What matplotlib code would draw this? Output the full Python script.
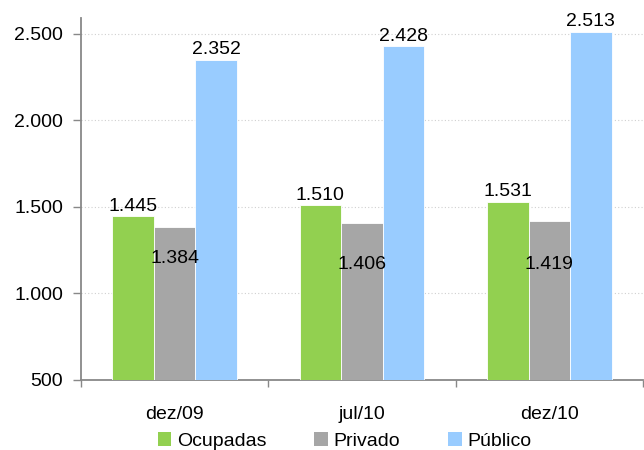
import numpy as np
import matplotlib.pyplot as plt
from matplotlib.ticker import FuncFormatter, FixedLocator
from matplotlib.patches import Patch

plt.rcParams['font.family'] = ['Liberation Sans', 'DejaVu Sans']

periods = ['dez/09', 'jul/10', 'dez/10']
ocupadas = [1445, 1510, 1531]
privado = [1384, 1406, 1419]
publico = [2352, 2428, 2513]

series = ['Ocupadas', 'Privado', 'Público']
colors = ['#92D050', '#A6A6A6', '#99CCFF']


def br(v):
    return f'{v:,.0f}'.replace(',', '.')


fig = plt.figure(figsize=(6.44, 4.5), dpi=100)
ax = fig.add_axes([81 / 644, 70 / 450, 562 / 644, 362 / 450])

x = np.arange(len(periods))
w = 0.222
bars = []
for i, (vals, col) in enumerate(zip([ocupadas, privado, publico], colors)):
    b = ax.bar(x + (i - 1) * w, vals, w, bottom=0, color=col,
               edgecolor='white', linewidth=0.6, zorder=3)
    bars.append(b)

# labels above green and blue bars, inside the grey ones
for rect, v in zip(bars[0], ocupadas):
    ax.annotate(br(v), (rect.get_x() + rect.get_width() / 2, v),
                xytext=(0, 1), textcoords='offset points',
                ha='center', va='bottom', fontsize=14)
for rect, v in zip(bars[2], publico):
    ax.annotate(br(v), (rect.get_x() + rect.get_width() / 2, v),
                xytext=(0, 1), textcoords='offset points',
                ha='center', va='bottom', fontsize=14)
inside_offsets = [-23, -30, -31]
for rect, v, off in zip(bars[1], privado, inside_offsets):
    ax.annotate(br(v), (rect.get_x() + rect.get_width() / 2, v),
                xytext=(0, off), textcoords='offset points',
                ha='center', va='center', fontsize=14)

ax.set_ylim(500, 2592)
ax.set_xlim(-0.5, 2.5)
ax.set_yticks([500, 1000, 1500, 2000, 2500])
ax.yaxis.set_major_formatter(FuncFormatter(lambda v, p: br(v)))
ax.set_xticks(x)
ax.set_xticklabels(periods)
ax.xaxis.set_minor_locator(FixedLocator([-0.5, 0.5, 1.5, 2.5]))
ax.tick_params(axis='x', which='major', length=0, pad=19, labelsize=14)
ax.tick_params(axis='x', which='minor', length=5, color='#888888', width=1)
ax.tick_params(axis='y', length=6, color='#888888', width=1, pad=7, labelsize=14)

ax.grid(axis='y', color='#D0D0D0', linestyle=(0, (1, 2)), linewidth=0.8, zorder=0)
for s in ['top', 'right']:
    ax.spines[s].set_visible(False)
for s in ['left', 'bottom']:
    ax.spines[s].set_color('#888888')
    ax.spines[s].set_linewidth(1.3)

handles = [Patch(facecolor=c, edgecolor='none') for c in colors]
fig.legend(handles, series, loc='center', bbox_to_anchor=(0.535, 0.02),
           ncol=3, frameon=False, fontsize=14, handlelength=0.7,
           handleheight=0.7, handletextpad=0.3, columnspacing=2.45)

fig.savefig('out.png', dpi=100)
